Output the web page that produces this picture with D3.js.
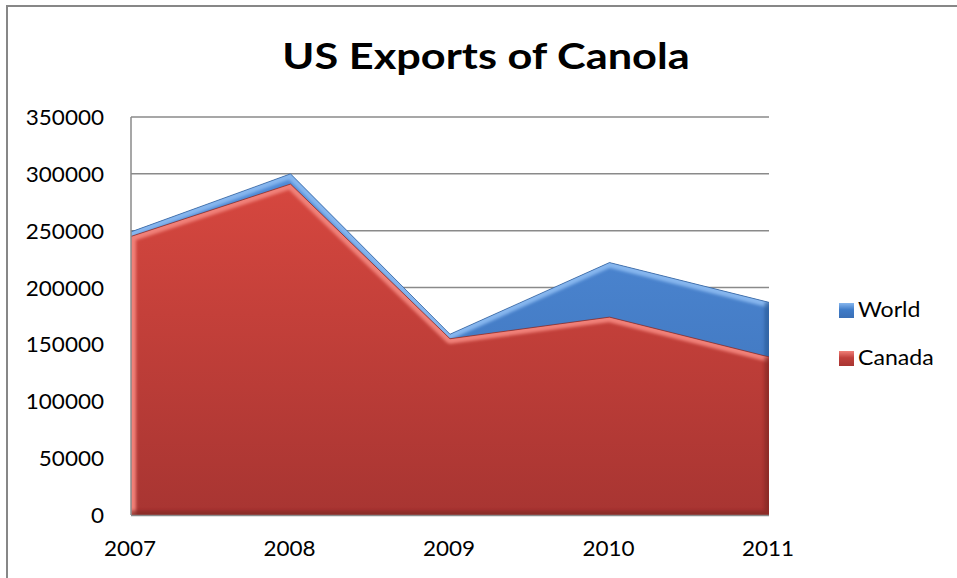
<!DOCTYPE html>
<html>
<head>
<meta charset="utf-8">
<script src="https://cdn.jsdelivr.net/npm/d3@7"></script>
<style>
  body { margin: 0; background: #fff; }
  text { font-family: Lato, "Open Sans", sans-serif; fill: #000; }
</style>
</head>
<body>
<div id="chart"></div>
<script>
var years = ["2007", "2008", "2009", "2010", "2011"];
var world = [249000, 300000, 159000, 222000, 187000];
var canada = [245000, 291000, 155000, 174000, 139000];
var yTicks = [0, 50000, 100000, 150000, 200000, 250000, 300000, 350000];
var seriesNames = ["World", "Canada"];

var width = 957, height = 578;

var svg = d3.select("#chart")
  .append("svg")
  .attr("width", width)
  .attr("height", height);

var defs = svg.append("defs");

var x = d3.scalePoint()
  .domain(years)
  .range([131, 769]);

var y = d3.scaleLinear()
  .domain([0, 350000])
  .range([515, 117]);

// text in the picture is a bit wider than Lato
function widen(stretch) {
  return function (sel) {
    sel.each(function () {
      var len = this.getComputedTextLength();
      d3.select(this).attr("textLength", len * stretch).attr("lengthAdjust", "spacingAndGlyphs");
    });
  };
}

// outer frame
svg.append("rect")
  .attr("x", 7).attr("y", 6)
  .attr("width", 980).attr("height", 600)
  .style("fill", "none")
  .style("stroke", "#878787")
  .style("stroke-width", 2);

// title
svg.append("text")
  .attr("x", 486)
  .attr("y", 69)
  .style("text-anchor", "middle")
  .style("font-weight", "bold")
  .style("font-size", "37px")
  .text("US Exports of Canola")
  .call(widen(1.17));

// gridlines
svg.selectAll(".grid")
  .data(yTicks.slice(1))
  .enter().append("line")
  .attr("class", "grid")
  .attr("x1", 131).attr("x2", 769)
  .attr("y1", function (d) { return y(d); })
  .attr("y2", function (d) { return y(d); })
  .style("stroke", "#8a8a8a")
  .style("stroke-width", 1.5);

// colours
var colors = {
  World: { top: "#4f8ad6", bottom: "#3a6fb6", light: "#86b6ee", dark: "#2c5a96", key: "#3f7cc8" },
  Canada: { top: "#d6473f", bottom: "#a83532", light: "#f08078", dark: "#7f2624", key: "#c0403c" }
};

var blur = defs.append("filter").attr("id", "soft")
  .attr("x", "-5%").attr("y", "-5%").attr("width", "110%").attr("height", "110%");
blur.append("feGaussianBlur").attr("stdDeviation", 1.6);

seriesNames.forEach(function (name) {
  var g = defs.append("linearGradient")
    .attr("id", "grad-" + name)
    .attr("x1", 0).attr("y1", 0).attr("x2", 0).attr("y2", 1);
  g.append("stop").attr("offset", "0%").style("stop-color", colors[name].top);
  g.append("stop").attr("offset", "100%").style("stop-color", colors[name].bottom);

  var k = defs.append("linearGradient")
    .attr("id", "key-" + name)
    .attr("x1", 0).attr("y1", 0).attr("x2", 0).attr("y2", 1);
  k.append("stop").attr("offset", "0%").style("stop-color", colors[name].light);
  k.append("stop").attr("offset", "45%").style("stop-color", colors[name].key);
  k.append("stop").attr("offset", "100%").style("stop-color", colors[name].bottom);
});

var area = d3.area()
  .x(function (d) { return x(d.year); })
  .y0(y(0))
  .y1(function (d) { return y(d.value); });

var line = d3.line();

function drawSeries(name, values) {
  var pts = years.map(function (yr, i) { return { year: yr, value: values[i] }; });

  defs.append("clipPath").attr("id", "clip-" + name)
    .append("path").attr("d", area(pts));

  svg.append("path")
    .attr("d", area(pts))
    .style("fill", "url(#grad-" + name + ")");

  var edge = svg.append("g").attr("clip-path", "url(#clip-" + name + ")");

  var topEdge = [[x(years[0]), y(0)]].concat(pts.map(function (d) { return [x(d.year), y(d.value)]; }));
  var last = pts[pts.length - 1];
  var lowEdge = [[x(last.year), y(last.value)], [x(last.year), y(0)], [x(years[0]), y(0)]];

  edge.append("path")
    .attr("d", line(topEdge))
    .style("fill", "none")
    .style("stroke", colors[name].light)
    .style("stroke-width", 10)
    .style("stroke-linejoin", "round")
    .attr("filter", "url(#soft)");

  edge.append("path")
    .attr("d", line(lowEdge))
    .style("fill", "none")
    .style("stroke", colors[name].dark)
    .style("stroke-width", 9)
    .style("opacity", 0.65)
    .attr("filter", "url(#soft)");

  svg.append("path")
    .attr("d", line(topEdge.slice(1)))
    .style("fill", "none")
    .style("stroke", colors[name].dark)
    .style("stroke-width", 1)
    .style("opacity", 0.7);
}

drawSeries("World", world);
drawSeries("Canada", canada);

// axes lines
svg.append("line")
  .attr("x1", 131).attr("x2", 131)
  .attr("y1", y(350000)).attr("y2", y(0))
  .style("stroke", "#8a8a8a").style("stroke-width", 1.5);
svg.append("line")
  .attr("x1", 131).attr("x2", 769)
  .attr("y1", y(0) + 0.5).attr("y2", y(0) + 0.5)
  .style("stroke", "#8a8a8a").style("stroke-width", 1.5);

// y tick labels
svg.selectAll(".ylab")
  .data(yTicks)
  .enter().append("text")
  .attr("class", "ylab")
  .attr("x", 104)
  .attr("y", function (d) { return y(d) + 8; })
  .style("text-anchor", "end")
  .style("font-size", "21px")
  .text(function (d) { return d; })
  .call(widen(1.07));

// x tick labels
svg.selectAll(".xlab")
  .data(years)
  .enter().append("text")
  .attr("class", "xlab")
  .attr("x", function (d) { return x(d) - 1; })
  .attr("y", 556)
  .style("text-anchor", "middle")
  .style("font-size", "21px")
  .text(function (d) { return d; })
  .call(widen(1.07));

// legend
var legend = svg.selectAll(".legend-item")
  .data(seriesNames)
  .enter().append("g")
  .attr("class", "legend-item")
  .attr("transform", function (d, i) { return "translate(839," + (303 + i * 48) + ")"; });

legend.append("rect")
  .attr("width", 15)
  .attr("height", 15)
  .style("fill", function (d) { return "url(#key-" + d + ")"; });

legend.append("text")
  .attr("x", 19)
  .attr("y", 14)
  .style("font-size", "21px")
  .text(function (d) { return d; })
  .call(widen(1.1));
</script>
</body>
</html>
